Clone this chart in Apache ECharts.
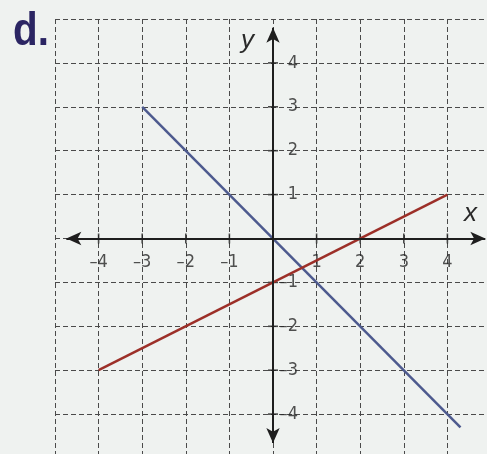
<!DOCTYPE html>
<html>
<head>
  <meta charset="UTF-8">
  <title>d.</title>
  <style>
    html, body { margin: 0; padding: 0; background: #eff2f0; }
    #chart { width: 487px; height: 454px; }
  </style>
  <script src="https://cdn.jsdelivr.net/npm/echarts@6/dist/echarts.min.js"></script>
</head>
<body>
  <div id="chart"></div>
  <script>
    // tick values and their labels
    const xTicks = [-4, -3, -2, -1, 1, 2, 3, 4];
    const xTickLabels = ['\u20134', '\u20133', '\u20132', '\u20131', '1', '2', '3', '4'];
    const yTicks = [-4, -3, -2, -1, 1, 2, 3, 4];
    const yTickLabels = ['\u20134', '\u20133', '\u20132', '\u20131', '1', '2', '3', '4'];
    // the two lines (end points)
    const blueLine = [[-3, 3], [4.3, -4.3]];
    const redLine = [[-4, -3], [4, 1]];
    // arrow ends of the axes
    const xAxisEnds = [-4.74, 4.87];
    const yAxisEnds = [-4.66, 4.8];

    const labelFont = { fontFamily: 'Liberation Sans Narrow, DejaVu Sans Condensed, Liberation Sans, sans-serif', fontSize: 18, color: '#262626' };
    const dash = { type: [5, 3], color: '#4a4a4a', width: 1 };

    const xTickPts = xTicks.map(function (v, i) { return { value: [v, 0], name: xTickLabels[i] }; });
    const yTickPts = yTicks.map(function (v, i) { return { value: [0, v], name: yTickLabels[i] }; });

    const chart = echarts.init(document.getElementById('chart'));
    chart.setOption({
      animation: false,
      backgroundColor: '#eff2f0',
      grid: { left: 55, top: 19, width: 436, height: 439, containLabel: false, outerBoundsMode: 'none' },
      xAxis: {
        type: 'value', min: -5, max: 5, interval: 1,
        axisLine: { show: false }, axisTick: { show: false }, axisLabel: { show: false },
        splitLine: { show: true, lineStyle: dash }
      },
      yAxis: {
        type: 'value', min: -5, max: 5, interval: 1,
        axisLine: { show: false }, axisTick: { show: false }, axisLabel: { show: false },
        splitLine: { show: true, lineStyle: dash }
      },
      graphic: [
        { type: 'text', left: 13, top: 9, scaleX: 0.86, style: { text: 'd.', font: 'bold 47px Liberation Sans, sans-serif', fill: '#2b2563' } },
        { type: 'text', left: 464, top: 201, style: { text: 'x', font: 'italic 26px Liberation Sans, sans-serif', fill: '#2a2a2a' } },
        { type: 'text', left: 241, top: 28, style: { text: 'y', font: 'italic 26px Liberation Sans, sans-serif', fill: '#2a2a2a' } }
      ],
      series: [
        {
          type: 'line', data: blueLine, showSymbol: false, silent: true,
          lineStyle: { color: '#4d5a8e', width: 2.5 },
          markLine: {
            silent: true, symbol: ['arrow', 'arrow'], symbolSize: [10, 15],
            label: { show: false },
            lineStyle: { color: '#1e1e1e', width: 2, type: 'solid' },
            data: [
              [{ coord: [xAxisEnds[0], 0] }, { coord: [xAxisEnds[1], 0] }],
              [{ coord: [0, yAxisEnds[0]] }, { coord: [0, yAxisEnds[1]] }]
            ]
          }
        },
        {
          type: 'line', data: redLine, showSymbol: false, silent: true,
          lineStyle: { color: '#9c2f28', width: 2.5 }
        },
        {
          type: 'scatter', data: xTickPts, symbol: 'rect', symbolSize: [1.6, 10], silent: true,
          itemStyle: { color: '#1e1e1e' },
          label: Object.assign({ show: true, position: 'bottom', distance: 10, formatter: '{b}' }, labelFont)
        },
        {
          type: 'scatter', data: yTickPts, symbol: 'rect', symbolSize: [10, 1.6], silent: true,
          itemStyle: { color: '#1e1e1e' },
          label: Object.assign({ show: true, position: [30, 0.8], align: 'right', verticalAlign: 'middle', formatter: '{b}' }, labelFont)
        }
      ]
    });
  </script>
</body>
</html>
